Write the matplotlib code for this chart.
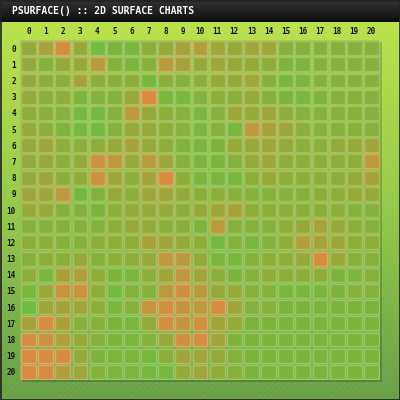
"""Recreate the pSurface() 2D surface chart (21 x 21 grid of shaded cells)."""

import numpy as np
import matplotlib

matplotlib.use("Agg")
import matplotlib.pyplot as plt
from matplotlib.colors import LinearSegmentedColormap, to_rgb
from matplotlib.patches import Rectangle

TITLE = "PSURFACE() :: 2D SURFACE CHARTS"

column_labels = [str(i) for i in range(21)]
row_labels = [str(i) for i in range(21)]

# cell values, 0 = green ... 8 = orange, rows top to bottom
surface_values = [
    [3, 4, 7, 3, 0, 1.5, 1, 2.5, 3, 4, 4.5, 3.5, 3, 3.5, 3.5, 2, 2, 2, 2, 2, 2],
    [3, 2, 3, 3, 5, 2, 1, 2, 5, 4, 3, 3.5, 3, 3, 2.5, 1.5, 1.5, 2, 2, 2, 2],
    [3, 2.5, 2.5, 4, 2.5, 2.5, 2.5, 1, 2.5, 2, 2.5, 3, 3, 3.5, 2, 1, 1, 2, 2, 2, 2],
    [3, 2.5, 2.5, 1.5, 2, 2, 3, 8, 1, 1, 2, 2.5, 2.5, 3, 2, 1.5, 1, 1.5, 2, 2, 2],
    [2.5, 2.5, 2, 0.5, 0.5, 2, 5, 3, 2.5, 2, 1, 2, 3.5, 3, 3.5, 2.5, 2, 2, 2, 2, 2],
    [3, 2.5, 1.5, 0.5, 0, 2, 3, 3, 2.5, 2, 1, 2, 1, 5.5, 4, 3.5, 2.5, 2, 2, 2, 2],
    [3, 3.5, 2.5, 2.5, 2.5, 3, 4, 3, 2.5, 1.5, 1.5, 1.5, 3, 3, 3.5, 3, 2.5, 2.5, 3, 3, 3.5],
    [3, 3, 2.5, 3, 6.5, 5.5, 3, 5, 3.5, 2, 1.5, 1.5, 2, 3, 3.5, 2.5, 2.5, 2.5, 2.5, 2.5, 5.5],
    [3, 3.5, 2.5, 3, 6.5, 3.5, 2.5, 4, 7.5, 2.5, 1, 1, 1, 2.5, 3, 2.5, 2.5, 2.5, 2.5, 3, 4],
    [3.5, 3.5, 5.5, 0.5, 2, 3, 2.5, 3.5, 3.5, 3, 2.5, 2.5, 2, 2, 2, 2, 2, 2.5, 2.5, 3, 3],
    [3, 3, 2, 2, 1.5, 2.5, 3, 3, 3, 2.5, 3, 3.5, 4, 2.5, 2.5, 2.5, 2.5, 2.5, 2.5, 2, 2],
    [2, 2, 2, 2, 2, 2.5, 3, 3, 2.5, 2.5, 1.5, 5, 2, 2, 2, 2.5, 3, 4, 3, 2.5, 2],
    [2.5, 2.5, 2, 2, 2.5, 2.5, 2.5, 4, 3.5, 3, 2.5, 0.5, 2, 1, 2, 2.5, 4.5, 4, 3.5, 2.5, 2.5],
    [2, 2.5, 2.5, 3, 2, 2.5, 2.5, 3, 5.5, 5, 3, 1, 1, 2, 2.5, 2.5, 3, 7.5, 3, 2, 2],
    [2.5, 1, 4, 4.5, 2.5, 1.5, 1, 2.5, 3.5, 5.5, 3.5, 2.5, 1.5, 2, 2.5, 2.5, 2.5, 2.5, 1.5, 1, 2],
    [1, 3, 6.5, 6.5, 2.5, 0.5, 2, 2, 5, 7, 5, 3, 3, 2, 2, 1, 1, 1, 1.5, 2, 2],
    [0, 3.5, 4, 3.5, 2.5, 1, 2, 6, 7, 6, 5.5, 7.5, 3.5, 2, 2, 1.5, 1.5, 1.5, 1.5, 1.5, 1.5],
    [4, 7.5, 4, 2, 2, 1.5, 1, 3, 7, 6, 7, 4, 3, 1.5, 1.5, 1.5, 1.5, 1.5, 1.5, 1.5, 1.5],
    [7.5, 6.5, 4.5, 3, 2, 1.5, 1, 2, 3, 7, 7.5, 4, 1.5, 1.5, 1.5, 1.5, 1.5, 1.5, 1.5, 1.5, 1.5],
    [7.5, 7.5, 7.5, 3, 1.5, 1, 1, 0.5, 2.5, 3.5, 3.5, 3, 2, 1.5, 1.5, 1.5, 1.5, 1.5, 1.5, 1.5, 1.5],
    [7.5, 7.5, 4.5, 3.5, 2, 1, 1, 0.5, 0.5, 3, 3.5, 2.5, 2, 1.5, 1.5, 1.5, 1.5, 1.5, 1.5, 1.5, 1.5],
]


def lighten(color, amount):
    rgb = np.array(to_rgb(color))
    return tuple(rgb + (1 - rgb) * amount)


def main() -> None:
    values = np.array(surface_values, dtype=float)
    row_count, column_count = values.shape

    cell_cmap = LinearSegmentedColormap.from_list(
        "surface",
        [
            (0.0, "#72bc42"),
            (0.2, "#7eb43e"),
            (0.3, "#8caf3a"),
            (0.45, "#a0a63a"),
            (0.65, "#bc9a3c"),
            (1.0, "#dc8a42"),
        ],
    )

    figure = plt.figure(figsize=(4, 4), dpi=100)

    # background: green gradient + faint diagonal stripes
    background = figure.add_axes([0, 0, 1, 1])
    background.set_xlim(0, 400)
    background.set_ylim(400, 0)
    background.axis("off")
    gradient = np.linspace(0, 1, 256)[:, None]
    background_cmap = LinearSegmentedColormap.from_list(
        "bg", ["#b9e24a", "#94c848", "#66a046"]
    )
    background.imshow(
        gradient, cmap=background_cmap, aspect="auto",
        extent=(0, 400, 400, 22), zorder=0,
    )
    background.add_patch(Rectangle(
        (0, 22), 400, 378, facecolor="none", edgecolor=(1, 1, 1, 0.05),
        hatch="//////", linewidth=0, zorder=1,
    ))
    # title bar
    title_gradient = np.linspace(0, 1, 64)[:, None]
    title_cmap = LinearSegmentedColormap.from_list("title", ["#333333", "#0e0e0e"])
    background.imshow(
        title_gradient, cmap=title_cmap, aspect="auto",
        extent=(0, 400, 22, 0), zorder=2,
    )
    background.text(
        12, 11.5, TITLE, color="white", fontsize=7, fontweight="bold",
        family="DejaVu Sans Mono", va="center", ha="left", zorder=3,
    )
    # plot area panel with shadow
    background.add_patch(Rectangle(
        (22, 42), 360, 340, facecolor=(0, 0, 0, 0.18), linewidth=0, zorder=2,
    ))
    panel_cmap = LinearSegmentedColormap.from_list("panel", ["#a6cc4e", "#7eb646"])
    background.imshow(
        gradient, cmap=panel_cmap, aspect="auto",
        extent=(20, 380, 380, 40), zorder=2.5,
    )
    background.add_patch(Rectangle(
        (0.5, 0.5), 399, 399, facecolor="none", edgecolor="#222222",
        linewidth=1.2, zorder=4,
    ))

    # surface cells
    axis = figure.add_axes([20 / 400, 20 / 400, 360 / 400, 340 / 400])
    axis.set_xlim(-0.5, column_count - 0.5)
    axis.set_ylim(row_count - 0.5, -0.5)
    axis.patch.set_alpha(0)
    for spine in axis.spines.values():
        spine.set_visible(False)

    gap = 0.07
    for row in range(row_count):
        for column in range(column_count):
            face = cell_cmap(values[row, column] / 8)
            axis.add_patch(Rectangle(
                (column - 0.5 + gap, row - 0.5 + gap), 1 - 2 * gap, 1 - 2 * gap,
                facecolor=face, edgecolor=lighten(face, 0.22), linewidth=1.0,
            ))

    axis.xaxis.tick_top()
    axis.set_xticks(range(column_count))
    axis.set_xticklabels(column_labels)
    axis.set_yticks(range(row_count))
    axis.set_yticklabels(row_labels)
    axis.tick_params(
        length=0, labelsize=5.5, pad=3, labelcolor="#111111",
    )
    for label in axis.get_xticklabels() + axis.get_yticklabels():
        label.set_fontweight("bold")
        label.set_family("DejaVu Sans Mono")

    figure.savefig("out.png", dpi=100)


if __name__ == "__main__":
    main()
